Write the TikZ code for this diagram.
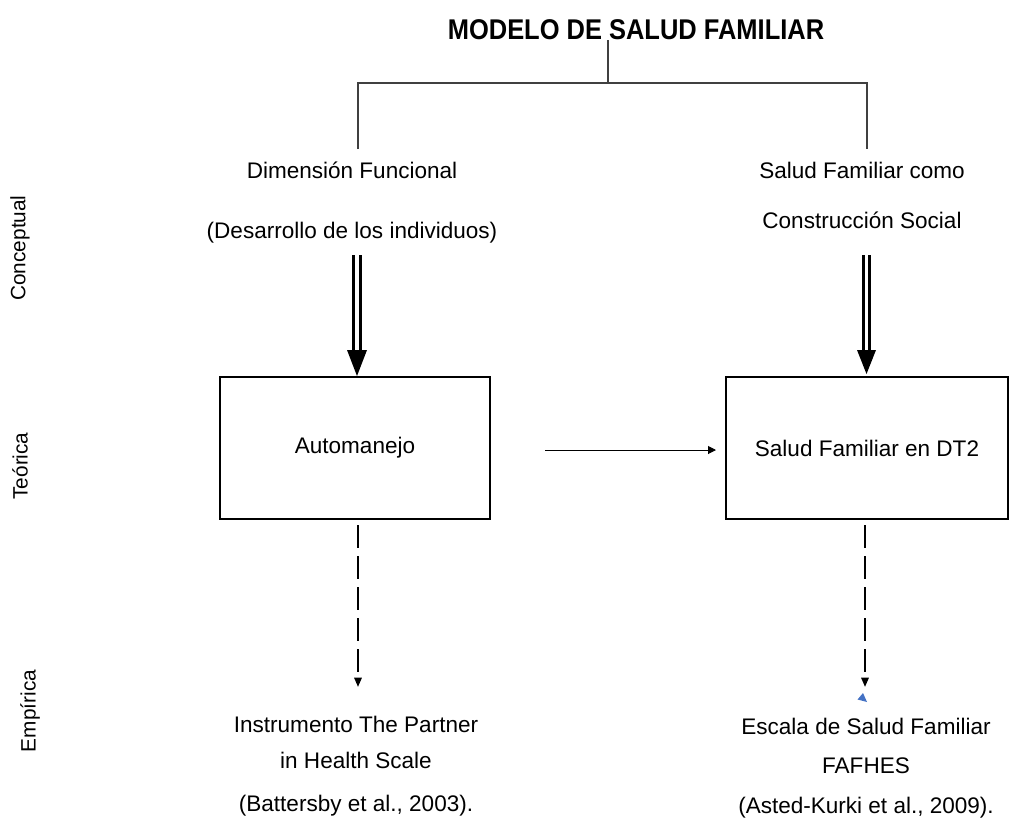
\documentclass[tikz,border=0pt]{standalone}
\usepackage{fontspec}
\setmainfont{Liberation Sans}
\usetikzlibrary{arrows.meta}
\definecolor{tipblue}{RGB}{68,114,196}
\begin{document}
\begin{tikzpicture}[x=0.75pt,y=-0.75pt,
  bodytxt/.style={font=\fontsize{16.9}{20}\selectfont, inner sep=0pt},
  sidelbl/.style={font=\fontsize{15.6}{18}\selectfont, rotate=90, inner sep=0pt},
  ttl/.style={font=\bfseries\fontsize{19.1}{23}\selectfont, inner sep=0pt},
  framebox/.style={draw, line width=1.1pt, inner sep=0pt, font=\fontsize{16.9}{20}\selectfont},
  bracketline/.style={line width=1pt, draw=black!75},
  shaft/.style={line width=2.2pt},
  dashedarrow/.style={line width=1.5pt, dash pattern=on 17.25pt off 6pt, -{Triangle[width=5.5pt,length=7pt]}},
  thinarrow/.style={line width=0.75pt, -{Triangle[width=6pt,length=6pt]}}
]
\useasboundingbox (0,0) rectangle (1013,832);

% title and bracket
\node[ttl] (title) at (636,30) {\scalebox{1}[1.12]{MODELO DE SALUD FAMILIAR}};
\coordinate (tstem) at (608,40);
\coordinate (tjoin) at (608,83);
\coordinate (bl) at (358,83);
\coordinate (br) at (867,83);
\coordinate (bld) at (358,149);
\coordinate (brd) at (867,149);
\draw[bracketline] (tstem) -- (tjoin);
\draw[bracketline] (bld) -- (bl) -- (br) -- (brd);

% side labels
\node[sidelbl] (conc) at (20,248) {Conceptual};
\node[sidelbl] (teor) at (20,466) {Teórica};
\node[sidelbl] (empi) at (30,711) {Empírica};

% conceptual texts
\node[bodytxt] (dimf) at (352,170) {Dimensión Funcional};
\node[bodytxt] (desa) at (352,233) {(Desarrollo de los individuos)};
\node[bodytxt] (sfc) at (862,170) {Salud Familiar como};
\node[bodytxt] (cons) at (862,220) {Construcción Social};

% boxes
\node[framebox, minimum width=202.5pt, minimum height=106.5pt] (auto) at (355,448) {Automanejo};
\node[framebox, minimum width=211.5pt, minimum height=106.5pt] (sfdt) at (867,448) {Salud Familiar en DT2};

% double arrows (left)
\coordinate (la1) at (353.8,255); \coordinate (la1e) at (353.8,352);
\coordinate (la2) at (360.2,255); \coordinate (la2e) at (360.2,352);
\draw[shaft] (la1) -- (la1e);
\draw[shaft] (la2) -- (la2e);
\coordinate (ltip) at (357,376);
\fill (347,350) -- (367,350) -- (ltip) -- cycle;
% double arrows (right)
\coordinate (ra1) at (863.3,255); \coordinate (ra1e) at (863.3,352);
\coordinate (ra2) at (869.7,255); \coordinate (ra2e) at (869.7,352);
\draw[shaft] (ra1) -- (ra1e);
\draw[shaft] (ra2) -- (ra2e);
\coordinate (rtip) at (866.5,374);
\fill (857,350) -- (876,350) -- (rtip) -- cycle;

% horizontal arrow
\coordinate (hs) at (545,450);
\coordinate (he) at (716,450);
\draw[thinarrow] (hs) -- (he);

% dashed arrows
\coordinate (ld) at (358,525);
\coordinate (lde) at (358,687);
\coordinate (rd) at (865,525);
\coordinate (rde) at (865,687);
\draw[dashedarrow] (ld) -- (lde);
\draw[dashedarrow] (rd) -- (rde);
\fill[tipblue] (863,693) -- (857.5,699.5) -- (867,702) -- cycle;

% empirical texts
\node[bodytxt] (ins1) at (356,724) {Instrumento The Partner};
\node[bodytxt] (ins2) at (356,760) {in Health Scale};
\node[bodytxt] (ins3) at (356,806) {(Battersby et al., 2003).};
\node[bodytxt] (esc1) at (866,726) {Escala de Salud Familiar};
\node[bodytxt] (esc2) at (866,766) {FAFHES};
\node[bodytxt] (esc3) at (866,808) {(Asted-Kurki et al., 2009).};
\end{tikzpicture}
\end{document}
